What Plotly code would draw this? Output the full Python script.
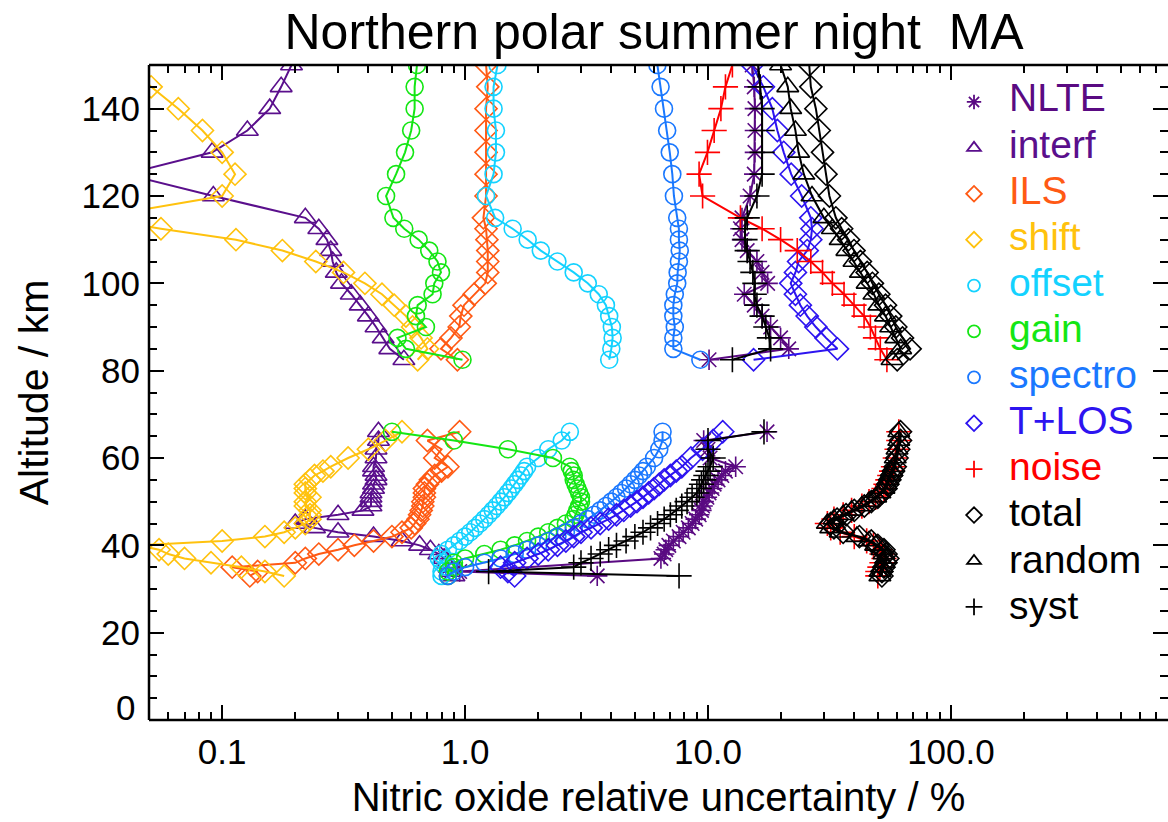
import plotly.graph_objects as go

# Altitude grids (km)
alt_hi = [150, 145, 140, 135, 130, 125, 120, 115, 112.5, 110, 107.5, 105, 102.5,
          100, 97.5, 95, 92.5, 90, 87.5, 85, 82.5]
alt_lo = [33, 34, 35, 36, 37, 38, 39, 40, 41, 42, 43, 44, 45, 46, 47, 48, 49, 50,
          51, 52, 53, 54, 55, 56, 57, 58, 60, 62, 64, 66]
alt_lo_nlte = [33, 34, 37, 38, 39, 40, 41, 42, 43, 44, 45, 46, 47, 48, 49, 50,
               51, 52, 53, 54, 55, 56, 57, 58, 60, 62, 64, 66]

# Relative uncertainties (%) -- upper altitude block
nlte_hi = [15.2, 15.5, 15.6, 15.6, 15.6, 15.5, 14.9, 13.8, 13.6, 13.8, 14.5, 15.9, 16.7,
           17.6, 14.1, 15.5, 16.7, 18.1, 19.9, 21.5, 10.1]
interf_hi = [0.193, 0.175, 0.157, 0.127, 0.091, 0.04, 0.092, 0.22, 0.25, 0.27, 0.28, 0.285,
             0.295, 0.31, 0.34, 0.37, 0.40, 0.43, 0.46, 0.49, 0.56]
ils_hi = [1.22, 1.24, 1.22, 1.22, 1.22, 1.22, 1.22, 1.19, 1.22, 1.23, 1.24, 1.24, 1.24,
          1.21, 1.09, 0.99, 0.96, 0.946, 0.875, 0.796, 0.93]
shift_hi = [0.04, 0.051, 0.066, 0.083, 0.10, 0.113, 0.10, 0.03, 0.056, 0.114, 0.177, 0.243,
            0.316, 0.387, 0.455, 0.511, 0.571, 0.608, 0.659, 0.70, 0.638]
offset_hi = [1.36, 1.31, 1.31, 1.34, 1.34, 1.31, 1.22, 1.33, 1.57, 1.81, 2.05, 2.4, 2.8,
             3.2, 3.55, 3.8, 3.92, 4.02, 4.05, 4.0, 3.92]
gain_hi = [0.634, 0.62, 0.62, 0.60, 0.566, 0.52, 0.473, 0.507, 0.562, 0.644, 0.712, 0.77,
           0.796, 0.747, 0.735, 0.638, 0.628, 0.69, 0.527, 0.571, 0.976]
spectro_hi = [6.19, 6.38, 6.59, 6.79, 6.96, 7.13, 7.24, 7.47, 7.59, 7.59, 7.65, 7.59, 7.5,
              7.47, 7.3, 7.2, 7.2, 7.3, 7.2, 7.2, 9.3]
tlos_hi = [15.2, 16.9, 18.4, 19.3, 20.5, 22.0, 24.3, 26.5, 26.8, 26.5, 25.6, 23.6, 22.9,
           21.9, 22.9, 24.0, 25.6, 27.8, 30.6, 34.1, 15.4]
noise_hi = [12.6, 11.8, 11.3, 10.6, 9.95, 9.19, 9.5, 13.6, 16.7, 19.9, 23.3, 26.5, 29.6,
            32.5, 36.3, 39.9, 43.9, 46.6, 48.9, 51.2, 54.5]
total_hi = [26.1, 26.5, 27.8, 28.7, 29.6, 30.6, 31.6, 33.6, 35.5, 37.9, 39.9, 42.4, 45.2,
            47.5, 50.5, 53.8, 56.5, 59.3, 63.2, 67.9, 60.1]
random_hi = [19.9, 21.3, 21.9, 22.9, 23.6, 24.8, 26.8, 30.0, 32.5, 35.0, 37.3, 39.9, 42.4,
             45.2, 48.2, 50.5, 53.8, 56.5, 59.3, 62.1, 57.2]
syst_hi = [16.1, 16.4, 16.7, 16.7, 16.7, 16.7, 15.9, 14.5, 14.2, 14.2, 14.5, 14.9, 15.3,
           15.6, 15.5, 15.9, 16.7, 17.3, 17.9, 18.1, 12.6]

# Relative uncertainties (%) -- lower altitude block
nlte_lo = [3.5, 0.95, 6.4, 6.6, 6.7, 6.9, 7.2, 7.6, 7.9, 8.3, 8.6, 8.9, 9.2, 9.4,
           9.5, 9.6, 9.9, 10.1, 10.4, 10.6, 11.0, 11.4, 11.8, 13.0, 10.2, 10.0, 9.6, 17.5]
interf_lo = [0.9, 0.88, 0.86, 0.85, 0.82, 0.78, 0.72, 0.65, 0.55, 0.42, 0.3, 0.24, 0.2, 0.22,
             0.3, 0.38, 0.41, 0.41, 0.41, 0.41, 0.42, 0.42, 0.43, 0.43, 0.42, 0.42, 0.43,
             0.43, 0.44, 0.44]
ils_lo = [0.13, 0.14, 0.11, 0.2, 0.22, 0.25, 0.3, 0.35, 0.42, 0.5, 0.55, 0.6, 0.62, 0.64,
          0.65, 0.66, 0.67, 0.67, 0.68, 0.68, 0.68, 0.7, 0.72, 0.75, 0.8, 0.85, 0.75, 0.8,
          0.7, 0.95]
shift_lo = [0.18, 0.15, 0.12, 0.09, 0.07, 0.06, 0.055, 0.045, 0.1, 0.15, 0.18, 0.2, 0.22,
            0.23, 0.23, 0.23, 0.22, 0.22, 0.23, 0.22, 0.22, 0.22, 0.23, 0.24, 0.26, 0.28,
            0.33, 0.4, 0.47, 0.55]
offset_lo = [0.8, 0.8, 0.85, 0.8, 0.78, 0.8, 0.85, 0.9, 0.95, 1.0, 1.05, 1.1, 1.15, 1.2, 1.25,
             1.3, 1.35, 1.4, 1.45, 1.5, 1.55, 1.6, 1.65, 1.7, 1.75, 1.8, 2.0, 2.2, 2.5, 2.7]
gain_lo = [0.85, 0.85, 0.9, 0.9, 1.0, 1.2, 1.4, 1.6, 1.8, 2.0, 2.2, 2.4, 2.6, 2.8, 2.85, 2.9,
           2.95, 3.0, 3.0, 2.95, 2.9, 2.85, 2.8, 2.8, 2.75, 2.7, 2.3, 1.5, 0.9, 0.5]
spectro_lo = [0.85, 0.9, 1.0, 1.2, 1.4, 1.6, 1.8, 2.0, 2.2, 2.4, 2.6, 2.8, 3.0, 3.2, 3.4, 3.6,
              3.8, 4.0, 4.2, 4.4, 4.6, 4.8, 5.0, 5.2, 5.4, 5.6, 6.0, 6.3, 6.5, 6.5]
tlos_lo = [1.6, 1.5, 1.4, 1.6, 1.8, 2.0, 2.2, 2.4, 2.6, 2.8, 3.0, 3.3, 3.6, 3.9, 4.2, 4.5,
           4.8, 5.1, 5.4, 5.7, 6.0, 6.3, 6.6, 7.0, 7.4, 7.8, 8.5, 9.5, 10.5, 11.5]
noise_lo = [50, 50, 51, 52, 53, 52, 51, 48, 45, 40, 35, 32, 31, 33, 36, 39, 43, 46, 49, 51,
            53, 54, 55, 56, 57, 58, 59, 60, 61, 61]
total_lo = [52, 52, 53, 54, 55, 54, 53, 50, 47, 42, 36, 33, 32, 34, 37, 40, 44, 47, 50, 52,
            54, 55, 56, 57, 58, 59, 60, 61, 62, 62]
random_lo = [51, 51, 52, 53, 54, 53, 52, 49, 46, 41, 35, 32, 31, 33, 36, 39, 43, 46, 49, 51,
             53, 54, 55, 56, 57, 58, 59, 60, 61, 61]
syst_lo = [7.6, 1.25, 2.8, 3.0, 3.3, 3.6, 3.9, 4.2, 4.6, 5.0, 5.4, 5.8, 6.2, 6.6, 7.0, 7.4,
           7.8, 8.2, 8.6, 9.0, 9.2, 9.4, 9.6, 9.8, 10.0, 10.2, 10.5, 10.0, 10.0, 17.0]

series = [
    ("NLTE", nlte_hi, alt_lo_nlte, nlte_lo, "#5a0a82", "asterisk-open", 17),
    ("interf", interf_hi, alt_lo, interf_lo, "#5a0f8c", "triangle-up-open", 19),
    ("ILS", ils_hi, alt_lo, ils_lo, "#ff5a14", "diamond-open", 17),
    ("shift", shift_hi, alt_lo, shift_lo, "#ffc20e", "diamond-open", 17),
    ("offset", offset_hi, alt_lo, offset_lo, "#14d2ff", "circle-open", 17),
    ("gain", gain_hi, alt_lo, gain_lo, "#14e614", "circle-open", 17),
    ("spectro", spectro_hi, alt_lo, spectro_lo, "#1a78ff", "circle-open", 17),
    ("T+LOS", tlos_hi, alt_lo, tlos_lo, "#2d14f0", "diamond-open", 17),
    ("noise", noise_hi, alt_lo, noise_lo, "#ff0000", "cross-thin-open", 18),
    ("total", total_hi, alt_lo, total_lo, "#000000", "diamond-open", 17),
    ("random", random_hi, alt_lo, random_lo, "#000000", "triangle-up-open", 19),
    ("syst", syst_hi, alt_lo, syst_lo, "#000000", "cross-thin-open", 18),
]

FONT = "Liberation Sans, Arial, Helvetica, sans-serif"

# plot-area geometry in pixels (figure is 1168 x 822)
PLOT_L, PLOT_R, PLOT_T, PLOT_B = 149, 1168, 65, 720
LEG_TOP_PX, LEG_STEP_PX, LEG_TEXT_PX = 98, 46.1, 1007

fig = go.Figure()
annotations = []
for i, (name, hi, alts_lo, lo, color, symbol, size) in enumerate(series):
    xs = list(hi) + [None] + list(lo)
    ys = list(alt_hi) + [None] + list(alts_lo)
    fig.add_trace(go.Scatter(
        x=xs, y=ys, mode="lines+markers", showlegend=False,
        line=dict(color=color, width=2),
        marker=dict(symbol=symbol, size=size, color=color,
                    line=dict(color=color, width=1.6)),
    ))
    # legend entry: symbol only; its label is an annotation in the series colour
    fig.add_trace(go.Scatter(
        x=[None], y=[None], mode="markers", name="\u00a0",
        marker=dict(symbol=symbol, size=12, color=color,
                    line=dict(color=color, width=1.8)),
    ))
    ypx = LEG_TOP_PX + LEG_STEP_PX * i
    annotations.append(dict(
        text=name, xref="paper", yref="paper",
        x=(LEG_TEXT_PX - PLOT_L) / (PLOT_R - PLOT_L),
        y=(PLOT_B - ypx) / (PLOT_B - PLOT_T),
        xanchor="left", yanchor="middle", showarrow=False,
        font=dict(family=FONT, size=39, color=color),
    ))

# the zero label sits slightly above the bottom edge
annotations.append(dict(text="0", xref="paper", yref="y", x=0, y=0, yshift=13,
                        xanchor="right", yanchor="middle", xshift=-12, showarrow=False,
                        font=dict(family=FONT, size=35, color="black")))

axis_common = dict(
    showline=False, ticks="inside", mirror="ticks", tickcolor="black",
    tickwidth=2, ticklen=15, showgrid=False, zeroline=False,
    tickfont=dict(family=FONT, size=35, color="black"),
)

fig.update_xaxes(
    type="log", range=[-1.30103, 2.8935],
    tickvals=[0.1, 1, 10, 100], ticktext=["0.1", "1.0", "10.0", "100.0"],
    minor=dict(ticks="inside", ticklen=8, tickwidth=2, tickcolor="black", dtick="D1",
               showgrid=False),
    title=dict(text="Nitric oxide relative uncertainty / %",
               font=dict(family=FONT, size=40, color="black"), standoff=12),
    ticklabelstandoff=8,
    **axis_common,
)
fig.update_yaxes(
    range=[0, 150], tickvals=[20, 40, 60, 80, 100, 120, 140],
    minor=dict(ticks="inside", ticklen=8, tickwidth=2, tickcolor="black",
               tickvals=[0, 5, 10, 15, 25, 30, 35, 45, 50, 55, 65, 70, 75, 85, 90, 95,
                         105, 110, 115, 125, 130, 135, 145, 150],
               showgrid=False),
    title=dict(text="Altitude / km", font=dict(family=FONT, size=41, color="black"),
               standoff=20),
    ticklabelstandoff=8,
    **axis_common,
)

# frame on left, bottom and top
for x0, y0, x1, y1 in [(0, 0, 0, 1), (0, 0, 1.01, 0), (0, 1, 1.01, 1)]:
    fig.add_shape(type="line", xref="paper", yref="paper", x0=x0, y0=y0, x1=x1, y1=y1,
                  line=dict(color="black", width=2.5))

fig.update_layout(
    width=1168, height=822,
    margin=dict(l=PLOT_L, r=0, t=PLOT_T, b=822 - PLOT_B),
    paper_bgcolor="white", plot_bgcolor="white",
    font=dict(family=FONT, color="black"),
    title=dict(text="Northern polar summer night\u00a0 MA", x=0.56, xanchor="center",
               y=0.962, yanchor="middle", font=dict(family=FONT, size=50, color="black")),
    legend=dict(x=0.79, y=(PLOT_B - LEG_TOP_PX + 24) / (PLOT_B - PLOT_T), xanchor="left",
                yanchor="top", bgcolor="rgba(0,0,0,0)",
                font=dict(family=FONT, size=33), itemsizing="trace", tracegroupgap=0),
    annotations=annotations,
)

fig.write_html("out.html")
